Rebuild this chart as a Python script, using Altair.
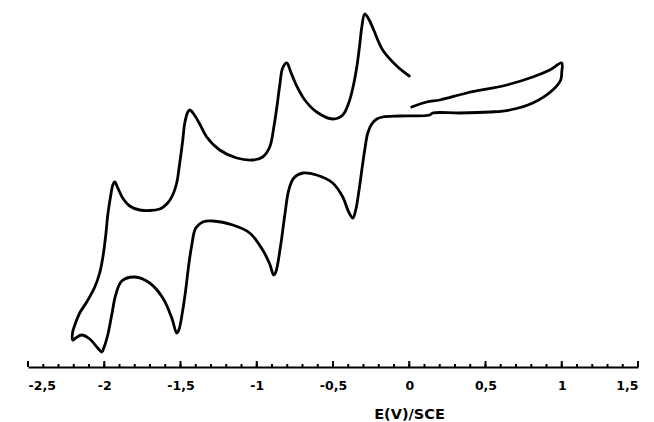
import altair as alt
import pandas as pd

# Cyclic voltammogram: potential (V vs SCE) and current (arbitrary units), in sweep order
E = [
    0.016, 0.115, 0.200, 0.377, 0.639, 0.810, 0.921, 1.000, 1.000, 0.993,
    0.941, 0.810, 0.659, 0.528, 0.331, 0.154, 0.134, -0.062, -0.174, -0.213,
    -0.246, -0.272, -0.292, -0.311, -0.331, -0.351, -0.370, -0.397, -0.436, -0.502,
    -0.607, -0.698, -0.757, -0.790, -0.816, -0.843, -0.875, -0.889, -0.915, -0.961,
    -1.046, -1.157, -1.289, -1.354, -1.400, -1.426, -1.446, -1.466, -1.485, -1.511,
    -1.525, -1.557, -1.616, -1.702, -1.800, -1.885, -1.925, -1.951, -1.977, -2.003,
    -2.016, -2.043, -2.095, -2.148, -2.187, -2.207, -2.207, -2.193, -2.161, -2.115,
    -2.062, -2.030, -2.010, -1.990, -1.977, -1.957, -1.944, -1.931, -1.911, -1.879,
    -1.833, -1.767, -1.636, -1.584, -1.551, -1.525, -1.505, -1.485, -1.472, -1.452,
    -1.439, -1.413, -1.374, -1.328, -1.243, -1.131, -1.026, -0.961, -0.915, -0.889,
    -0.869, -0.849, -0.830, -0.803, -0.777, -0.738, -0.685, -0.607, -0.502, -0.436,
    -0.397, -0.370, -0.344, -0.325, -0.311, -0.292, -0.266, -0.233, -0.174, -0.082,
    0.000,
]
I = [
    26.0, 26.5, 26.7, 27.4, 28.2, 29.0, 29.7, 30.4, 29.5, 28.7,
    27.7, 26.4, 25.7, 25.5, 25.4, 25.4, 25.2, 25.1, 25.0, 24.8,
    24.3, 23.4, 21.7, 19.7, 17.5, 15.7, 14.9, 15.5, 17.0, 18.4,
    19.2, 19.4, 18.9, 17.7, 15.2, 12.2, 9.5, 9.2, 10.3, 11.7,
    13.4, 14.2, 14.6, 14.5, 13.9, 12.2, 10.2, 7.7, 5.7, 3.7,
    3.4, 4.9, 6.9, 8.4, 9.0, 8.6, 7.2, 5.2, 3.2, 1.9,
    1.5, 1.9, 2.8, 3.2, 2.9, 2.7, 3.5, 4.2, 5.4, 6.5,
    8.0, 9.4, 10.9, 13.2, 15.2, 17.2, 18.2, 18.5, 17.9, 16.9,
    16.1, 15.7, 15.8, 16.4, 17.2, 18.4, 20.4, 22.7, 24.4, 25.5,
    25.7, 25.3, 24.3, 23.0, 21.7, 20.9, 20.7, 21.0, 22.0, 23.9,
    25.9, 28.2, 29.9, 30.4, 29.5, 28.1, 26.7, 25.5, 24.8, 25.2,
    26.4, 27.9, 30.0, 32.2, 34.0, 35.3, 34.8, 33.7, 31.7, 30.1,
    29.1,
]

major_ticks = [-2.5, -2.0, -1.5, -1.0, -0.5, 0.0, 0.5, 1.0, 1.5]
minor_ticks = [round(-2.5 + 0.1 * k, 1) for k in range(41)]

W, H = 610, 367

curve = pd.DataFrame({"E": E, "I": I, "k": list(range(len(E)))})
majors = pd.DataFrame({"E": major_ticks})
minors = pd.DataFrame({"E": minor_ticks})

xscale = alt.Scale(domain=[-2.5, 1.5], nice=False, zero=False)
yscale = alt.Scale(domain=[0, 36.7], nice=False, zero=False)

label_expr = "(datum.value < 0 ? '-' : '') + replace(toString(abs(datum.value)), '.', ',')"

line = alt.Chart(curve).mark_line(
    color="black", strokeWidth=2.8, strokeJoin="round", strokeCap="round",
    interpolate="catmull-rom"
).encode(
    x=alt.X(
        "E:Q", scale=xscale,
        axis=alt.Axis(
            values=major_ticks, ticks=False, grid=False,
            domainColor="black", domainWidth=2.2,
            labelExpr=label_expr, labelFont="DejaVu Sans", labelFontWeight="bold",
            labelFontSize=12.5, labelColor="black", labelPadding=12,
            title="E(V)/SCE", titleFont="DejaVu Sans", titleFontWeight="bold",
            titleFontSize=14.5, titleColor="black", titleX=381, titleY=51,
            titleBaseline="alphabetic", titleAlign="center",
        ),
    ),
    y=alt.Y("I:Q", scale=yscale, axis=None),
    order="k:Q",
)

major_rules = alt.Chart(majors).mark_rule(color="black", strokeWidth=2).encode(
    x=alt.X("E:Q", scale=xscale),
    y=alt.value(H),
    y2=alt.value(H - 6),
)

minor_rules = alt.Chart(minors).mark_rule(color="black", strokeWidth=2).encode(
    x=alt.X("E:Q", scale=xscale),
    y=alt.value(H),
    y2=alt.value(H - 3),
)

chart = alt.layer(minor_rules, major_rules, line).properties(
    width=W, height=H,
    autosize=alt.AutoSizeParams(type="none"),
    padding={"left": 28, "top": 0, "right": 16, "bottom": 55},
    background="white",
).configure_view(stroke=None)

chart.save("out.html", embed_options={"renderer": "svg", "actions": False})
